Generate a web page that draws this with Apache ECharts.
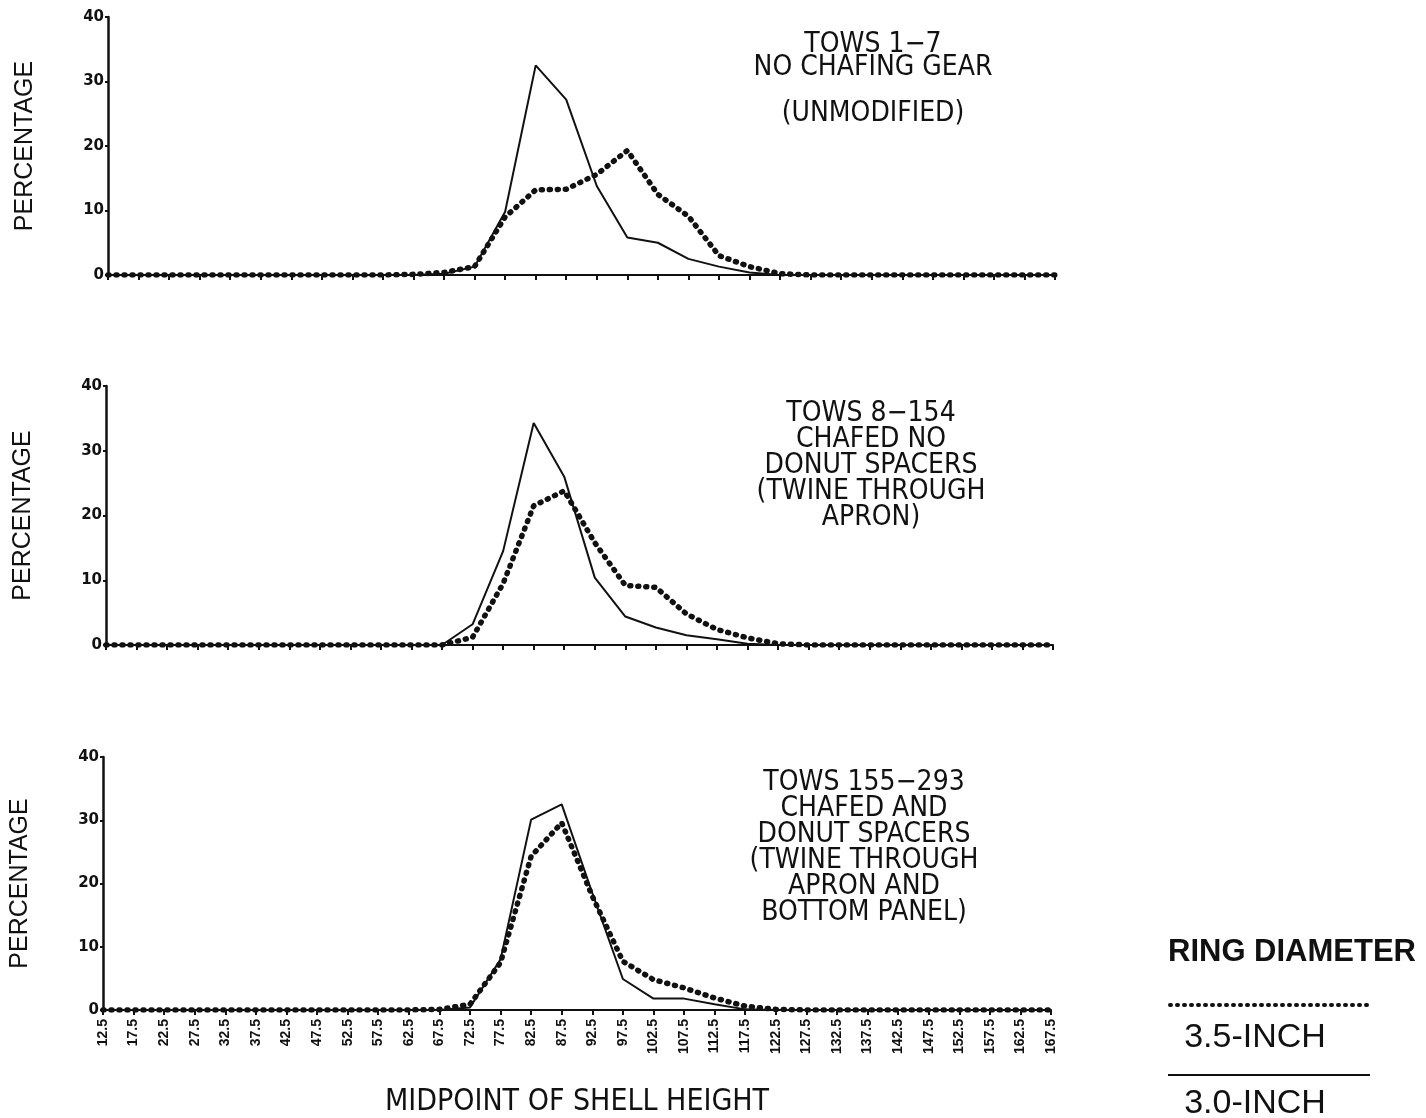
<!DOCTYPE html>
<html>
<head>
<meta charset="utf-8">
<title>Shell height distribution by ring diameter</title>
<script src="https://cdn.jsdelivr.net/npm/echarts@6.0.0/dist/echarts.min.js"></script>
<style>
  html, body { margin: 0; padding: 0; background: #fff; }
  #chart { width: 1426px; height: 1118px; }
</style>
</head>
<body>
<div id="chart"></div>
<script>
// midpoints of shell height (mm)
const midpoints = ['12.5', '17.5', '22.5', '27.5', '32.5', '37.5', '42.5', '47.5', '52.5', '57.5',
  '62.5', '67.5', '72.5', '77.5', '82.5', '87.5', '92.5', '97.5', '102.5', '107.5', '112.5',
  '117.5', '122.5', '127.5', '132.5', '137.5', '142.5', '147.5', '152.5', '157.5', '162.5', '167.5']

const yTicks = { min: 0, max: 40, interval: 10 }

// tows 1-7, no chafing gear
const tows1Ring30 = [0, 0, 0, 0, 0, 0, 0, 0, 0, 0, 0, 0.2, 1.3, 9.8, 32.5, 27.2, 13.8, 5.8, 5.0, 2.5, 1.3, 0.4, 0, 0, 0, 0, 0, 0, 0, 0, 0, 0]
const tows1Ring35 = [0, 0, 0, 0, 0, 0, 0, 0, 0, 0, 0.1, 0.4, 1.3, 9.0, 13.2, 13.3, 15.6, 19.3, 12.5, 9.1, 3.0, 1.3, 0.2, 0, 0, 0, 0, 0, 0, 0, 0, 0]

// tows 8-154, chafed, no donut spacers
const tows2Ring30 = [0, 0, 0, 0, 0, 0, 0, 0, 0, 0, 0, 0, 3.2, 14.5, 34.3, 26.0, 10.4, 4.4, 2.7, 1.5, 0.9, 0.2, 0, 0, 0, 0, 0, 0, 0, 0, 0, 0]
const tows2Ring35 = [0, 0, 0, 0, 0, 0, 0, 0, 0, 0, 0, 0, 1.2, 9.5, 21.5, 23.8, 15.8, 9.2, 8.9, 4.8, 2.4, 1.1, 0.2, 0, 0, 0, 0, 0, 0, 0, 0, 0]

// tows 155-293, chafed and donut spacers
const tows3Ring30 = [0, 0, 0, 0, 0, 0, 0, 0, 0, 0, 0, 0, 0.4, 8.0, 30.1, 32.5, 18.5, 4.9, 1.8, 1.8, 0.9, 0.1, 0, 0, 0, 0, 0, 0, 0, 0, 0, 0]
const tows3Ring35 = [0, 0, 0, 0, 0, 0, 0, 0, 0, 0, 0, 0.1, 0.9, 7.5, 24.3, 29.6, 18.0, 7.7, 4.8, 3.5, 1.9, 0.6, 0.1, 0, 0, 0, 0, 0, 0, 0, 0, 0]

const panelNotes = [
  'TOWS 1\u22127\nNO CHAFING GEAR\n\n(UNMODIFIED)',
  'TOWS 8\u2212154\nCHAFED NO\nDONUT SPACERS\n(TWINE THROUGH\nAPRON)',
  'TOWS 155\u2212293\nCHAFED AND\nDONUT SPACERS\n(TWINE THROUGH\nAPRON AND\nBOTTOM PANEL)'
]

const narrow = "'Liberation Sans Narrow', 'DejaVu Sans Condensed', sans-serif"
const ink = '#111'

const grids = [
  { left: 108, top: 17, width: 947, height: 258 },
  { left: 106, top: 386, width: 947, height: 259 },
  { left: 101, top: 757, width: 950, height: 254 }
]

const chart = echarts.init(document.getElementById('chart'))

function xAxisFor(i) {
  const last = i === 2
  return {
    type: 'category',
    gridIndex: i,
    data: midpoints,
    boundaryGap: false,
    axisLine: { lineStyle: { color: ink, width: 2 } },
    axisTick: { show: true, length: 5, lineStyle: { color: ink, width: 2 } },
    axisLabel: {
      show: last,
      interval: 0,
      rotate: 90,
      margin: 9,
      color: ink,
      fontFamily: 'Liberation Sans',
      fontWeight: 'bold',
      fontSize: 14
    },
    name: last ? 'MIDPOINT OF SHELL HEIGHT' : '',
    nameLocation: 'middle',
    nameGap: 77,
    nameTextStyle: { color: ink, fontFamily: narrow, fontSize: 30 }
  }
}

function yAxisFor(i) {
  return {
    type: 'value',
    gridIndex: i,
    min: yTicks.min,
    max: yTicks.max,
    interval: yTicks.interval,
    splitLine: { show: false },
    axisLine: { show: true, lineStyle: { color: ink, width: 2.5 } },
    axisTick: { show: true, length: 3, lineStyle: { color: ink, width: 2 } },
    axisLabel: {
      margin: 4,
      color: ink,
      fontFamily: 'DejaVu Sans',
      fontWeight: 'bold',
      fontSize: 15
    },
    name: 'PERCENTAGE',
    nameLocation: 'middle',
    nameGap: 70,
    nameTextStyle: { color: ink, fontFamily: 'Liberation Sans', fontSize: 25 }
  }
}

function solid(i, data) {
  return {
    name: '3.0-INCH',
    type: 'line',
    xAxisIndex: i,
    yAxisIndex: i,
    data: data,
    showSymbol: false,
    lineStyle: { color: ink, width: 2 },
    z: 3
  }
}

function dotted(i, data) {
  return {
    name: '3.5-INCH',
    type: 'line',
    xAxisIndex: i,
    yAxisIndex: i,
    data: data,
    showSymbol: false,
    lineStyle: { color: ink, width: 5.5, type: [1, 7], cap: 'round' },
    z: 4
  }
}

const noteGraphics = [
  { x: 873, y: 33, lineHeight: 23 },
  { x: 871, y: 401, lineHeight: 26 },
  { x: 864, y: 770, lineHeight: 26 }
].map((p, i) => ({
  type: 'text',
  x: p.x,
  y: p.y,
  style: {
    text: panelNotes[i],
    fill: ink,
    font: '28px ' + narrow,
    align: 'center',
    verticalAlign: 'top',
    lineHeight: p.lineHeight
  }
}))

chart.setOption({
  animation: false,
  backgroundColor: '#fff',
  grid: grids,
  xAxis: [0, 1, 2].map(xAxisFor),
  yAxis: [0, 1, 2].map(yAxisFor),
  series: [
    solid(0, tows1Ring30), dotted(0, tows1Ring35),
    solid(1, tows2Ring30), dotted(1, tows2Ring35),
    solid(2, tows3Ring30), dotted(2, tows3Ring35)
  ],
  graphic: noteGraphics.concat([
    // legend, drawn by hand: line above its label
    {
      type: 'text', x: 1168, y: 952,
      style: { text: 'RING DIAMETER', fill: ink, font: 'bold 31px Liberation Sans', verticalAlign: 'middle' }
    },
    {
      type: 'line',
      shape: { x1: 1170, y1: 1005, x2: 1368, y2: 1005 },
      style: { stroke: ink, lineWidth: 4, lineDash: [1, 6], lineCap: 'round' }
    },
    {
      type: 'text', x: 1255, y: 1038,
      style: { text: '3.5-INCH', fill: ink, font: '34px Liberation Sans', align: 'center', verticalAlign: 'middle' }
    },
    {
      type: 'line',
      shape: { x1: 1168, y1: 1075, x2: 1370, y2: 1075 },
      style: { stroke: ink, lineWidth: 2 }
    },
    {
      type: 'text', x: 1255, y: 1104,
      style: { text: '3.0-INCH', fill: ink, font: '34px Liberation Sans', align: 'center', verticalAlign: 'middle' }
    }
  ])
})
</script>
</body>
</html>
